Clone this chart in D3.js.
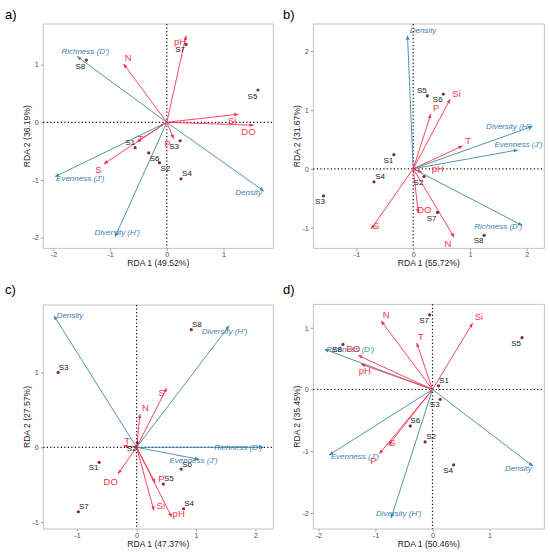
<!DOCTYPE html>
<html>
<head>
<meta charset="utf-8">
<script src="https://cdn.jsdelivr.net/npm/d3@7"></script>
<style>
body { margin: 0; background: #fff; }
text { font-family: "Liberation Sans", Arial, sans-serif; }
</style>
</head>
<body>
<svg id="fig" width="550" height="553"></svg>
<script>
// ---- data ----
var sites = ["S1", "S2", "S3", "S4", "S5", "S6", "S7", "S8"];
var envVars = ["T", "pH", "DO", "N", "P", "Si", "S"];
var indices = ["Richness (D')", "Evenness (J')", "Diversity (H')", "Density"];
var panelNames = ["a)", "b)", "c)", "d)"];
var rda1Pct = ["49.52", "55.72", "47.37", "50.46"];
var rda2Pct = ["36.19", "31.67", "27.57", "35.45"];

// a)
var aSiteX = [-0.56, -0.13, 0.235, 0.25, 1.61, -0.32, 0.34, -1.42];
var aSiteY = [-0.44, -0.70, -0.32, -0.98, 0.56, -0.53, 1.35, 1.08];
var aEnvX = [-0.53, 0.34, 1.53, -0.76, 0.12, 1.26, -1.11];
var aEnvY = [-0.34, 1.50, -0.05, 1.01, -0.28, 0.14, -0.72];
var aIdxX = [-1.58, -1.97, -0.91, 1.71];
var aIdxY = [1.14, -0.94, -1.98, -1.19];
// b)
var bSiteX = [-0.34, 0.19, -1.58, -0.69, 0.25, 0.53, 0.43, 1.25];
var bSiteY = [0.24, -0.13, -0.46, -0.22, 1.24, 1.27, -0.74, -1.13];
var bEnvX = [0.87, 0.15, 0.09, 0.72, 0.31, 0.65, -0.74];
var bEnvY = [0.39, -0.06, -0.75, -1.16, 0.93, 1.18, -1.02];
var bIdxX = [1.92, 1.84, 2.10, -0.10];
var bIdxY = [-0.96, 0.32, 0.72, 2.26];
// c)
var cSiteX = [-0.63, 0.01, -1.32, 0.79, 0.45, 0.75, -0.98, 0.92];
var cSiteY = [-0.20, 0.06, 1.00, -0.82, -0.49, -0.29, -0.86, 1.57];
var cEnvX = [-0.22, 0.59, -0.31, 0.056, 0.31, 0.29, 0.506];
var cEnvY = [0.02, -0.93, -0.35, 0.44, -0.47, -0.84, 0.79];
var cIdxX = [2.13, 1.05, 1.556, -1.39];
var cIdxY = [0.0, -0.16, 1.62, 1.755];
// d)
var dSiteX = [0.105, -0.13, 0.135, 0.37, 1.57, -0.39, -0.05, -1.57];
var dSiteY = [0.06, -0.85, -0.16, -1.22, 0.84, -0.59, 1.21, 0.73];
var dEnvX = [-0.275, -1.25, -1.30, -0.90, -0.93, 0.70, -0.77];
var dEnvY = [0.75, 0.41, 0.55, 1.11, -1.04, 1.07, -0.90];
var dIdxX = [-1.89, -1.81, -0.725, 1.76];
var dIdxY = [0.65, -1.06, -2.08, -1.24];

var tickVals = [[-2, -1, 0, 1], [-1, 0, 1, 2], [-1, 0, 1, 2], [-2, -1, 0, 1]];
var tickValsY = [[-2, -1, 0, 1], [-1, 0, 1, 2], [-1, 0, 1], [-2, -1, 0, 1]];

// ---- layout (pixel boxes, axis domains, label nudges) ----
var boxes = [
  { ox: 0,   oy: 0,   l: 43.3,  r: 273.3, t: 24,  b: 248.3, xd: [-2.18, 1.88], yd: [-2.185, 1.705] },
  { ox: 275, oy: 0,   l: 38.3,  r: 269.3, t: 24,  b: 248.3, xd: [-1.76, 2.31], yd: [-1.35, 2.46] },
  { ox: 0,   oy: 275, l: 43.3,  r: 273.3, t: 30,  b: 254,   xd: [-1.57, 2.30], yd: [-1.09, 1.90] },
  { ox: 275, oy: 275, l: 38.3,  r: 269.3, t: 29.3, b: 254,  xd: [-2.09, 1.96], yd: [-2.26, 1.38] }
];

var siteNudge = [
  [[-5,-5],[6,6],[-6,5.5],[6,-5.5],[-5.5,6],[6,6],[-6,5.5],[-6,6]],
  [[-5.5,5.5],[-5.5,6],[-3.5,5.5],[6,-5],[-5.5,-5.5],[-5.5,5.5],[-6,6],[-5.5,5]],
  [[-5.5,5.5],[-5.5,5.5],[5.5,-5],[5.5,-5],[5.5,-5.5],[6,-5],[5.5,-5],[5.5,-5]],
  [[5.5,-5],[6,-5],[-5.5,5.5],[-5.5,5.5],[-6,5.5],[5,-5.5],[-5.5,6],[-6,5.5]]
];
var envNudge = [
  [[4,-3],[-6,5.5],[-5,6.5],[4.5,-7],[-6,5.5],[-6,6],[-5.5,6]],
  [[5.5,-5.5],[16,-3.5],[6,-3.5],[-6,6],[5.5,-6.5],[6.5,-6],[5,-3.5]],
  [[3.5,-5.5],[7,-3.5],[-7.5,7.5],[5.5,-6.5],[6.5,-4],[7,-4.5],[-5,4]],
  [[4,-6.5],[3.5,6.5],[-5,-7],[5,-6.5],[-6,6.5],[6.5,-6.5],[3.5,-2.5]]
];
var idxNudge = [
  [[8,-5.5],[25,1.5],[2,-3.5],[-15,1.5]],
  [[-24,1],[1,-5],[-23.5,0.5],[15.5,-5.5]],
  [[-25,0],[-5.5,1],[-4.5,5.5],[16,0]],
  [[25.5,0],[25.5,1.5],[7.5,-4],[-14.5,2]]
];

var siteX = [aSiteX, bSiteX, cSiteX, dSiteX];
var siteY = [aSiteY, bSiteY, cSiteY, dSiteY];
var envX = [aEnvX, bEnvX, cEnvX, dEnvX];
var envY = [aEnvY, bEnvY, cEnvY, dEnvY];
var idxX = [aIdxX, bIdxX, cIdxX, dIdxX];
var idxY = [aIdxY, bIdxY, cIdxY, dIdxY];

var blue = "#3f88a9";
var blueText = "#3a7fb0";
var red = "#f7344d";
var dotCol = "#8b2342";

var svg = d3.select("#fig");
var defs = svg.append("defs");
[["arrBlue", blue], ["arrRed", red]].forEach(function (m) {
  defs.append("marker")
    .attr("id", m[0])
    .attr("viewBox", "0 0 10 10")
    .attr("refX", 9).attr("refY", 5)
    .attr("markerWidth", 4.5).attr("markerHeight", 4.5)
    .attr("markerUnits", "userSpaceOnUse")
    .attr("orient", "auto")
    .append("path")
    .attr("d", "M0,1 L10,5 L0,9 Z")
    .attr("fill", m[1]);
});

var fmt = function (d) { return String(d); };

function drawPanel(i) {
  var bx = boxes[i];
  var g = svg.append("g").attr("transform", "translate(" + bx.ox + "," + bx.oy + ")");
  var x = d3.scaleLinear().domain(bx.xd).range([bx.l, bx.r]);
  var y = d3.scaleLinear().domain(bx.yd).range([bx.b, bx.t]);

  // panel letter
  g.append("text").attr("x", i % 2 ? 8 : 5).attr("y", 19)
    .attr("font-size", 13).attr("fill", "#000").text(panelNames[i]);

  // axes
  var xa = g.append("g").attr("transform", "translate(0," + bx.b + ")")
    .call(d3.axisBottom(x).tickValues(tickVals[i]).tickFormat(fmt).tickSize(2.5).tickPadding(1.5));
  var ya = g.append("g").attr("transform", "translate(" + bx.l + ",0)")
    .call(d3.axisLeft(y).tickValues(tickValsY[i]).tickFormat(fmt).tickSize(2.5).tickPadding(2));
  [xa, ya].forEach(function (a) {
    a.select(".domain").remove();
    a.selectAll(".tick line").attr("stroke", "#555").attr("stroke-width", 0.6);
    a.selectAll(".tick text").attr("fill", "#4d4d4d").attr("font-size", 7.2)
      .style("font-family", "Liberation Sans, Arial, sans-serif");
  });

  g.append("rect").attr("x", bx.l).attr("y", bx.t)
    .attr("width", bx.r - bx.l).attr("height", bx.b - bx.t)
    .attr("fill", "none").attr("stroke", "#b5b5b5").attr("stroke-width", 0.8);

  // axis titles
  g.append("text").attr("x", (bx.l + bx.r) / 2).attr("y", bx.b + 18)
    .attr("text-anchor", "middle").attr("font-size", 8.6).attr("fill", "#222")
    .text("RDA 1 (" + rda1Pct[i] + "%)");
  g.append("text")
    .attr("transform", "translate(" + (bx.l - 13.5) + "," + ((bx.t + bx.b) / 2) + ") rotate(-90)")
    .attr("text-anchor", "middle").attr("font-size", 8.6).attr("fill", "#222")
    .text("RDA 2 (" + rda2Pct[i] + "%)");

  // zero lines
  g.append("line").attr("x1", bx.l).attr("x2", bx.r).attr("y1", y(0)).attr("y2", y(0))
    .attr("stroke", "#111").attr("stroke-width", 1.2).attr("stroke-dasharray", "1.2,2.3");
  g.append("line").attr("x1", x(0)).attr("x2", x(0)).attr("y1", bx.t).attr("y2", bx.b)
    .attr("stroke", "#111").attr("stroke-width", 1.2).attr("stroke-dasharray", "1.2,2.3");

  // diversity indices (blue arrows)
  var idx = indices.map(function (n, k) { return { name: n, x: idxX[i][k], y: idxY[i][k], nd: idxNudge[i][k] }; });
  g.selectAll(".idx").data(idx).enter().append("line")
    .attr("x1", x(0)).attr("y1", y(0))
    .attr("x2", function (d) { return x(d.x); }).attr("y2", function (d) { return y(d.y); })
    .attr("stroke", blue).attr("stroke-width", 0.9).attr("marker-end", "url(#arrBlue)");

  // environmental variables (red arrows)
  var env = envVars.map(function (n, k) { return { name: n, x: envX[i][k], y: envY[i][k], nd: envNudge[i][k] }; });
  g.selectAll(".env").data(env).enter().append("line")
    .attr("x1", x(0)).attr("y1", y(0))
    .attr("x2", function (d) { return x(d.x); }).attr("y2", function (d) { return y(d.y); })
    .attr("stroke", red).attr("stroke-width", 0.9).attr("marker-end", "url(#arrRed)");

  // sites
  var st = sites.map(function (n, k) { return { name: n, x: siteX[i][k], y: siteY[i][k], nd: siteNudge[i][k] }; });
  g.selectAll(".site").data(st).enter().append("circle")
    .attr("cx", function (d) { return x(d.x); }).attr("cy", function (d) { return y(d.y); })
    .attr("r", 1.6).attr("fill", dotCol);

  // labels
  function labels(data, size, col, italic) {
    g.selectAll(null).data(data).enter().append("text")
      .attr("x", function (d) { return x(d.x) + d.nd[0]; })
      .attr("y", function (d) { return y(d.y) + d.nd[1]; })
      .attr("text-anchor", "middle").attr("dominant-baseline", "central")
      .attr("font-size", size).attr("fill", col)
      .attr("font-style", italic ? "italic" : "normal")
      .text(function (d) { return d.name; });
  }
  labels(idx, 8, blueText, true);
  labels(st, 8, "#1a1a1a", false);
  labels(env, 9.5, red, false);
}

for (var p = 0; p < 4; p++) drawPanel(p);
</script>
</body>
</html>
